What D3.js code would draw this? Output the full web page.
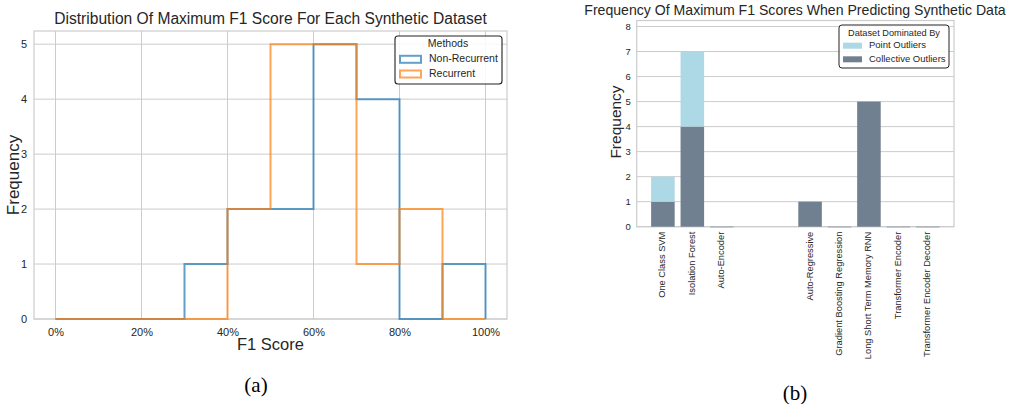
<!DOCTYPE html>
<html>
<head>
<meta charset="utf-8">
<script src="https://cdn.jsdelivr.net/npm/d3@7"></script>
<style>
  body { margin: 0; background: #fff; }
  svg { font-family: "Liberation Sans", Arial, sans-serif; }
  .tick text { fill: #262626; }
  .label { fill: #262626; }
  .caption { font-family: "Liberation Serif", "Times New Roman", serif; fill: #000; }
</style>
</head>
<body>
<svg id="fig" width="1009" height="404"></svg>
<script>
// ---- data: left histogram
const binEdges = [0, 0.1, 0.2, 0.3, 0.4, 0.5, 0.6, 0.7, 0.8, 0.9, 1.0]
const nonRecurrentCounts = [0, 0, 0, 1, 2, 2, 5, 4, 0, 1]
const recurrentCounts = [0, 0, 0, 0, 2, 5, 5, 1, 2, 0]
const histTicks = [0, 0.2, 0.4, 0.6, 0.8, 1.0]
const histYTicks = [0, 1, 2, 3, 4, 5]

// ---- data: right stacked bars
const models = ["One Class SVM", "Isolation Forest", "Auto-Encoder", "Auto-Regressive",
                "Gradient Boosting Regression", "Long Short Term Memory RNN",
                "Transformer Encoder", "Transformer Encoder Decoder"]
const modelSlots = [0, 1, 2, 5, 6, 7, 8, 9]
const collectiveCounts = [1, 4, 0, 1, 0, 5, 0, 0]
const pointCounts = [1, 3, 0, 0, 0, 0, 0, 0]
const barYTicks = [0, 1, 2, 3, 4, 5, 6, 7, 8]

const gridColor = "#cccccc"
const blue = "#1f77b4", orange = "#ff7f0e"
const pointColor = "lightblue", collectiveColor = "slategray"

let svg = d3.select("#fig")

function frame(g, x0, y0, x1, y1) {
    g.append("rect")
        .attr("x", x0).attr("y", y0)
        .attr("width", x1 - x0).attr("height", y1 - y0)
        .attr("fill", "none").attr("stroke", gridColor).attr("stroke-width", 1.2)
}

// ================= (a) histogram =================
function histogram_plot() {
    let left = 34, right = 507, top = 31, bottom = 319
    let xScale = d3.scaleLinear().domain([-0.05, 1.05]).range([left, right])
    let yScale = d3.scaleLinear().domain([0, 5.24]).range([bottom, top])
    let g = svg.append("g")

    // grid
    g.append("g").selectAll("line").data(histTicks).enter().append("line")
        .attr("x1", d => xScale(d)).attr("x2", d => xScale(d))
        .attr("y1", top).attr("y2", bottom)
        .attr("stroke", gridColor).attr("stroke-width", 1)
    g.append("g").selectAll("line").data(histYTicks).enter().append("line")
        .attr("x1", left).attr("x2", right)
        .attr("y1", d => yScale(d)).attr("y2", d => yScale(d))
        .attr("stroke", gridColor).attr("stroke-width", 1)
    frame(g, left, top, right, bottom)

    // axes (labels only)
    let x_axis = d3.axisBottom(xScale).tickValues(histTicks).tickSize(0).tickPadding(9)
        .tickFormat(d3.format(".0%"))
    let y_axis = d3.axisLeft(yScale).tickValues(histYTicks).tickSize(0).tickPadding(7)
        .tickFormat(d3.format("d"))
    g.append("g").attr("transform", `translate(0,${bottom})`).call(x_axis)
        .call(a => a.select(".domain").remove())
        .selectAll("text").attr("font-size", 11)
    g.append("g").attr("transform", `translate(${left},0)`).call(y_axis)
        .call(a => a.select(".domain").remove())
        .selectAll("text").attr("font-size", 11)

    // step outlines
    let stepLine = d3.line().x(d => xScale(d[0])).y(d => yScale(d[1]))
    function stepPoints(counts) {
        let pts = [[binEdges[0], 0]]
        counts.forEach(function (c, i) {
            pts.push([binEdges[i], c])
            pts.push([binEdges[i + 1], c])
        })
        pts.push([binEdges[binEdges.length - 1], 0])
        return pts
    }
    g.append("path").attr("d", stepLine(stepPoints(nonRecurrentCounts)))
        .attr("fill", "none").attr("stroke", blue).attr("stroke-opacity", 0.7).attr("stroke-width", 2)
    g.append("path").attr("d", stepLine(stepPoints(recurrentCounts)))
        .attr("fill", "none").attr("stroke", orange).attr("stroke-opacity", 0.7).attr("stroke-width", 2)

    // legend
    let lg = g.append("g")
    lg.append("rect").attr("x", 395).attr("y", 36).attr("width", 107).attr("height", 48)
        .attr("rx", 3).attr("fill", "#fff").attr("fill-opacity", 0.85)
        .attr("stroke", "#222").attr("stroke-width", 1.1)
    lg.append("text").attr("class", "label").attr("x", 448).attr("y", 44.5)
        .attr("text-anchor", "middle").attr("dominant-baseline", "middle")
        .attr("font-size", 10.5).text("Methods")
    let entries = [["Non-Recurrent", blue], ["Recurrent", orange]]
    entries.forEach(function (e, i) {
        let cy = 59.3 + i * 14.7
        lg.append("rect").attr("x", 400).attr("y", cy - 3.5).attr("width", 21).attr("height", 7)
            .attr("fill", "none").attr("stroke", e[1]).attr("stroke-opacity", 0.7).attr("stroke-width", 2)
        lg.append("text").attr("class", "label").attr("x", 429).attr("y", cy)
            .attr("dominant-baseline", "middle").attr("font-size", 10.5).text(e[0])
    })

    // titles
    g.append("text").attr("class", "label").attr("x", (left + right) / 2).attr("y", 24)
        .attr("text-anchor", "middle").attr("font-size", 15.6)
        .text("Distribution Of Maximum F1 Score For Each Synthetic Dataset")
    g.append("text").attr("class", "label").attr("x", (left + right) / 2).attr("y", 350)
        .attr("text-anchor", "middle").attr("font-size", 16.5).text("F1 Score")
    g.append("text").attr("class", "label")
        .attr("transform", `translate(${19},${175}) rotate(-90)`)
        .attr("text-anchor", "middle").attr("font-size", 17).text("Frequency")
    g.append("text").attr("class", "caption").attr("x", 256).attr("y", 392)
        .attr("text-anchor", "middle").attr("font-size", 21).text("(a)")
}

// ================= (b) stacked bars =================
function stacked_bar_plot() {
    let left = 636.7, right = 954, top = 20.5, bottom = 226.7
    let xScale = d3.scaleLinear().domain([-0.89, 9.89]).range([left, right])
    let yScale = d3.scaleLinear().domain([0, 8.24]).range([bottom, top])
    let barW = xScale(0.8) - xScale(0)
    let g = svg.append("g")

    g.append("g").selectAll("line").data(barYTicks).enter().append("line")
        .attr("x1", left).attr("x2", right)
        .attr("y1", d => yScale(d)).attr("y2", d => yScale(d))
        .attr("stroke", gridColor).attr("stroke-width", 1)
    frame(g, left, top, right, bottom)

    let y_axis = d3.axisLeft(yScale).tickValues(barYTicks).tickSize(0).tickPadding(6)
        .tickFormat(d3.format("d"))
    g.append("g").attr("transform", `translate(${left},0)`).call(y_axis)
        .call(a => a.select(".domain").remove())
        .selectAll("text").attr("font-size", 9.5)

    let rows = models.map(function (m, i) {
        return {name: m, slot: modelSlots[i], c: collectiveCounts[i], p: pointCounts[i]}
    })

    // collective outliers (bottom)
    g.append("g").selectAll("rect").data(rows).enter().append("rect")
        .attr("x", d => xScale(d.slot) - barW / 2).attr("width", barW)
        .attr("y", d => yScale(d.c)).attr("height", d => Math.max(yScale(0) - yScale(d.c), 0.6))
        .attr("fill", collectiveColor)
    // point outliers stacked on top
    g.append("g").selectAll("rect").data(rows.filter(d => d.p > 0)).enter().append("rect")
        .attr("x", d => xScale(d.slot) - barW / 2).attr("width", barW)
        .attr("y", d => yScale(d.c + d.p)).attr("height", d => yScale(d.c) - yScale(d.c + d.p))
        .attr("fill", pointColor)

    // rotated category labels
    g.append("g").selectAll("text").data(rows).enter().append("text")
        .attr("class", "label")
        .attr("transform", d => `translate(${xScale(d.slot) + 2.5},${bottom + 5}) rotate(-90)`)
        .attr("text-anchor", "end").attr("font-size", 9.3)
        .text(d => d.name)

    // legend
    let lg = g.append("g")
    lg.append("rect").attr("x", 839).attr("y", 25).attr("width", 110).attr("height", 43)
        .attr("rx", 3).attr("fill", "#fff").attr("fill-opacity", 0.85)
        .attr("stroke", "#222").attr("stroke-width", 1)
    lg.append("text").attr("class", "label").attr("x", 894).attr("y", 33.3)
        .attr("text-anchor", "middle").attr("dominant-baseline", "middle")
        .attr("font-size", 9.2).text("Dataset Dominated By")
    let entries = [["Point Outliers", pointColor], ["Collective Outliers", collectiveColor]]
    entries.forEach(function (e, i) {
        let cy = 45.7 + i * 13.6
        lg.append("rect").attr("x", 843).attr("y", cy - 3).attr("width", 19).attr("height", 6)
            .attr("fill", e[1])
        lg.append("text").attr("class", "label").attr("x", 869).attr("y", cy)
            .attr("dominant-baseline", "middle").attr("font-size", 9.5).text(e[0])
    })

    g.append("text").attr("class", "label").attr("x", 795).attr("y", 15)
        .attr("text-anchor", "middle").attr("font-size", 14.1)
        .text("Frequency Of Maximum F1 Scores When Predicting Synthetic Data")
    g.append("text").attr("class", "label")
        .attr("transform", `translate(${621},${122}) rotate(-90)`)
        .attr("text-anchor", "middle").attr("font-size", 15.5).text("Frequency")
    g.append("text").attr("class", "caption").attr("x", 795).attr("y", 400)
        .attr("text-anchor", "middle").attr("font-size", 21).text("(b)")
}

histogram_plot()
stacked_bar_plot()
</script>
</body>
</html>
